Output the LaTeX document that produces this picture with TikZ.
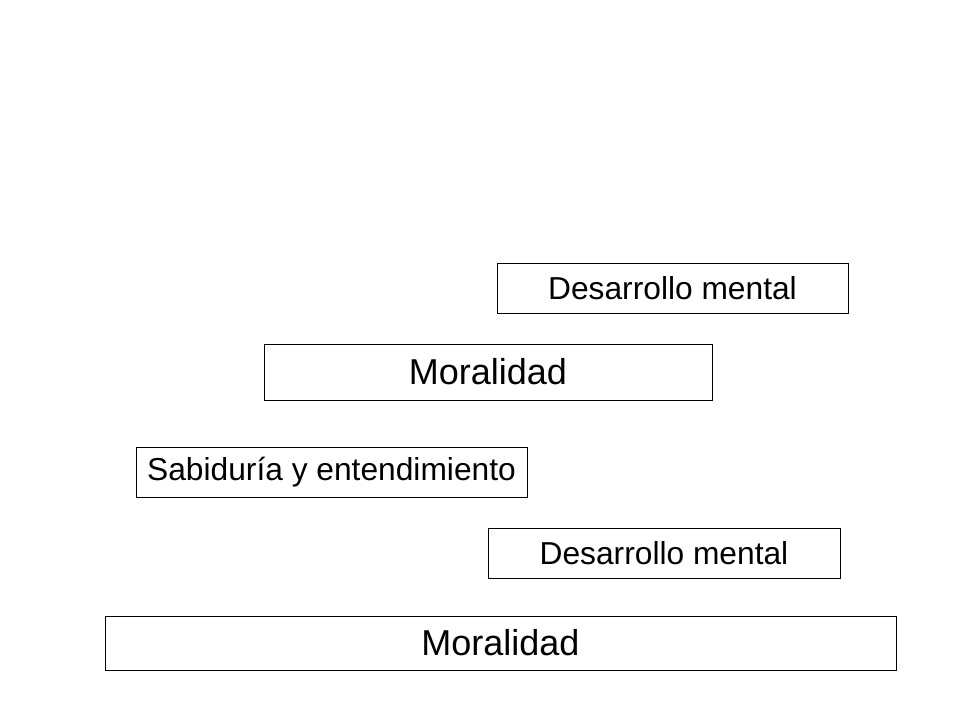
\documentclass[tikz,border=0pt]{standalone}
\usepackage{fontspec}
\setmainfont{Liberation Sans}
\begin{document}
\begin{tikzpicture}[x=0.75pt,y=-0.75pt,
    levelbox/.style={draw, thin, inner sep=0pt, anchor=center},
    smalltext/.style={font=\fontsize{23.8}{27}\selectfont},
    bigtext/.style={font=\fontsize{27}{31}\selectfont}]
  \useasboundingbox (0,0) rectangle (960,720);
  % upper group
  \node[levelbox, smalltext, minimum width=351*0.75pt, minimum height=50*0.75pt]
    (mentalup) at (672.5,288) {Desarrollo mental};
  \node[levelbox, bigtext, minimum width=448*0.75pt, minimum height=56*0.75pt]
    (moralup) at (488,372) {Moralidad};
  % lower group
  \node[levelbox, smalltext, minimum width=391*0.75pt, minimum height=50*0.75pt]
    (sabiduria) at (331.5,472) {Sabiduría y entendimiento};
  \node[levelbox, smalltext, minimum width=352*0.75pt, minimum height=50*0.75pt]
    (mentallow) at (664,553) {Desarrollo mental};
  \node[levelbox, bigtext, minimum width=791*0.75pt, minimum height=54*0.75pt]
    (morallow) at (500.5,643) {Moralidad};
\end{tikzpicture}
\end{document}
